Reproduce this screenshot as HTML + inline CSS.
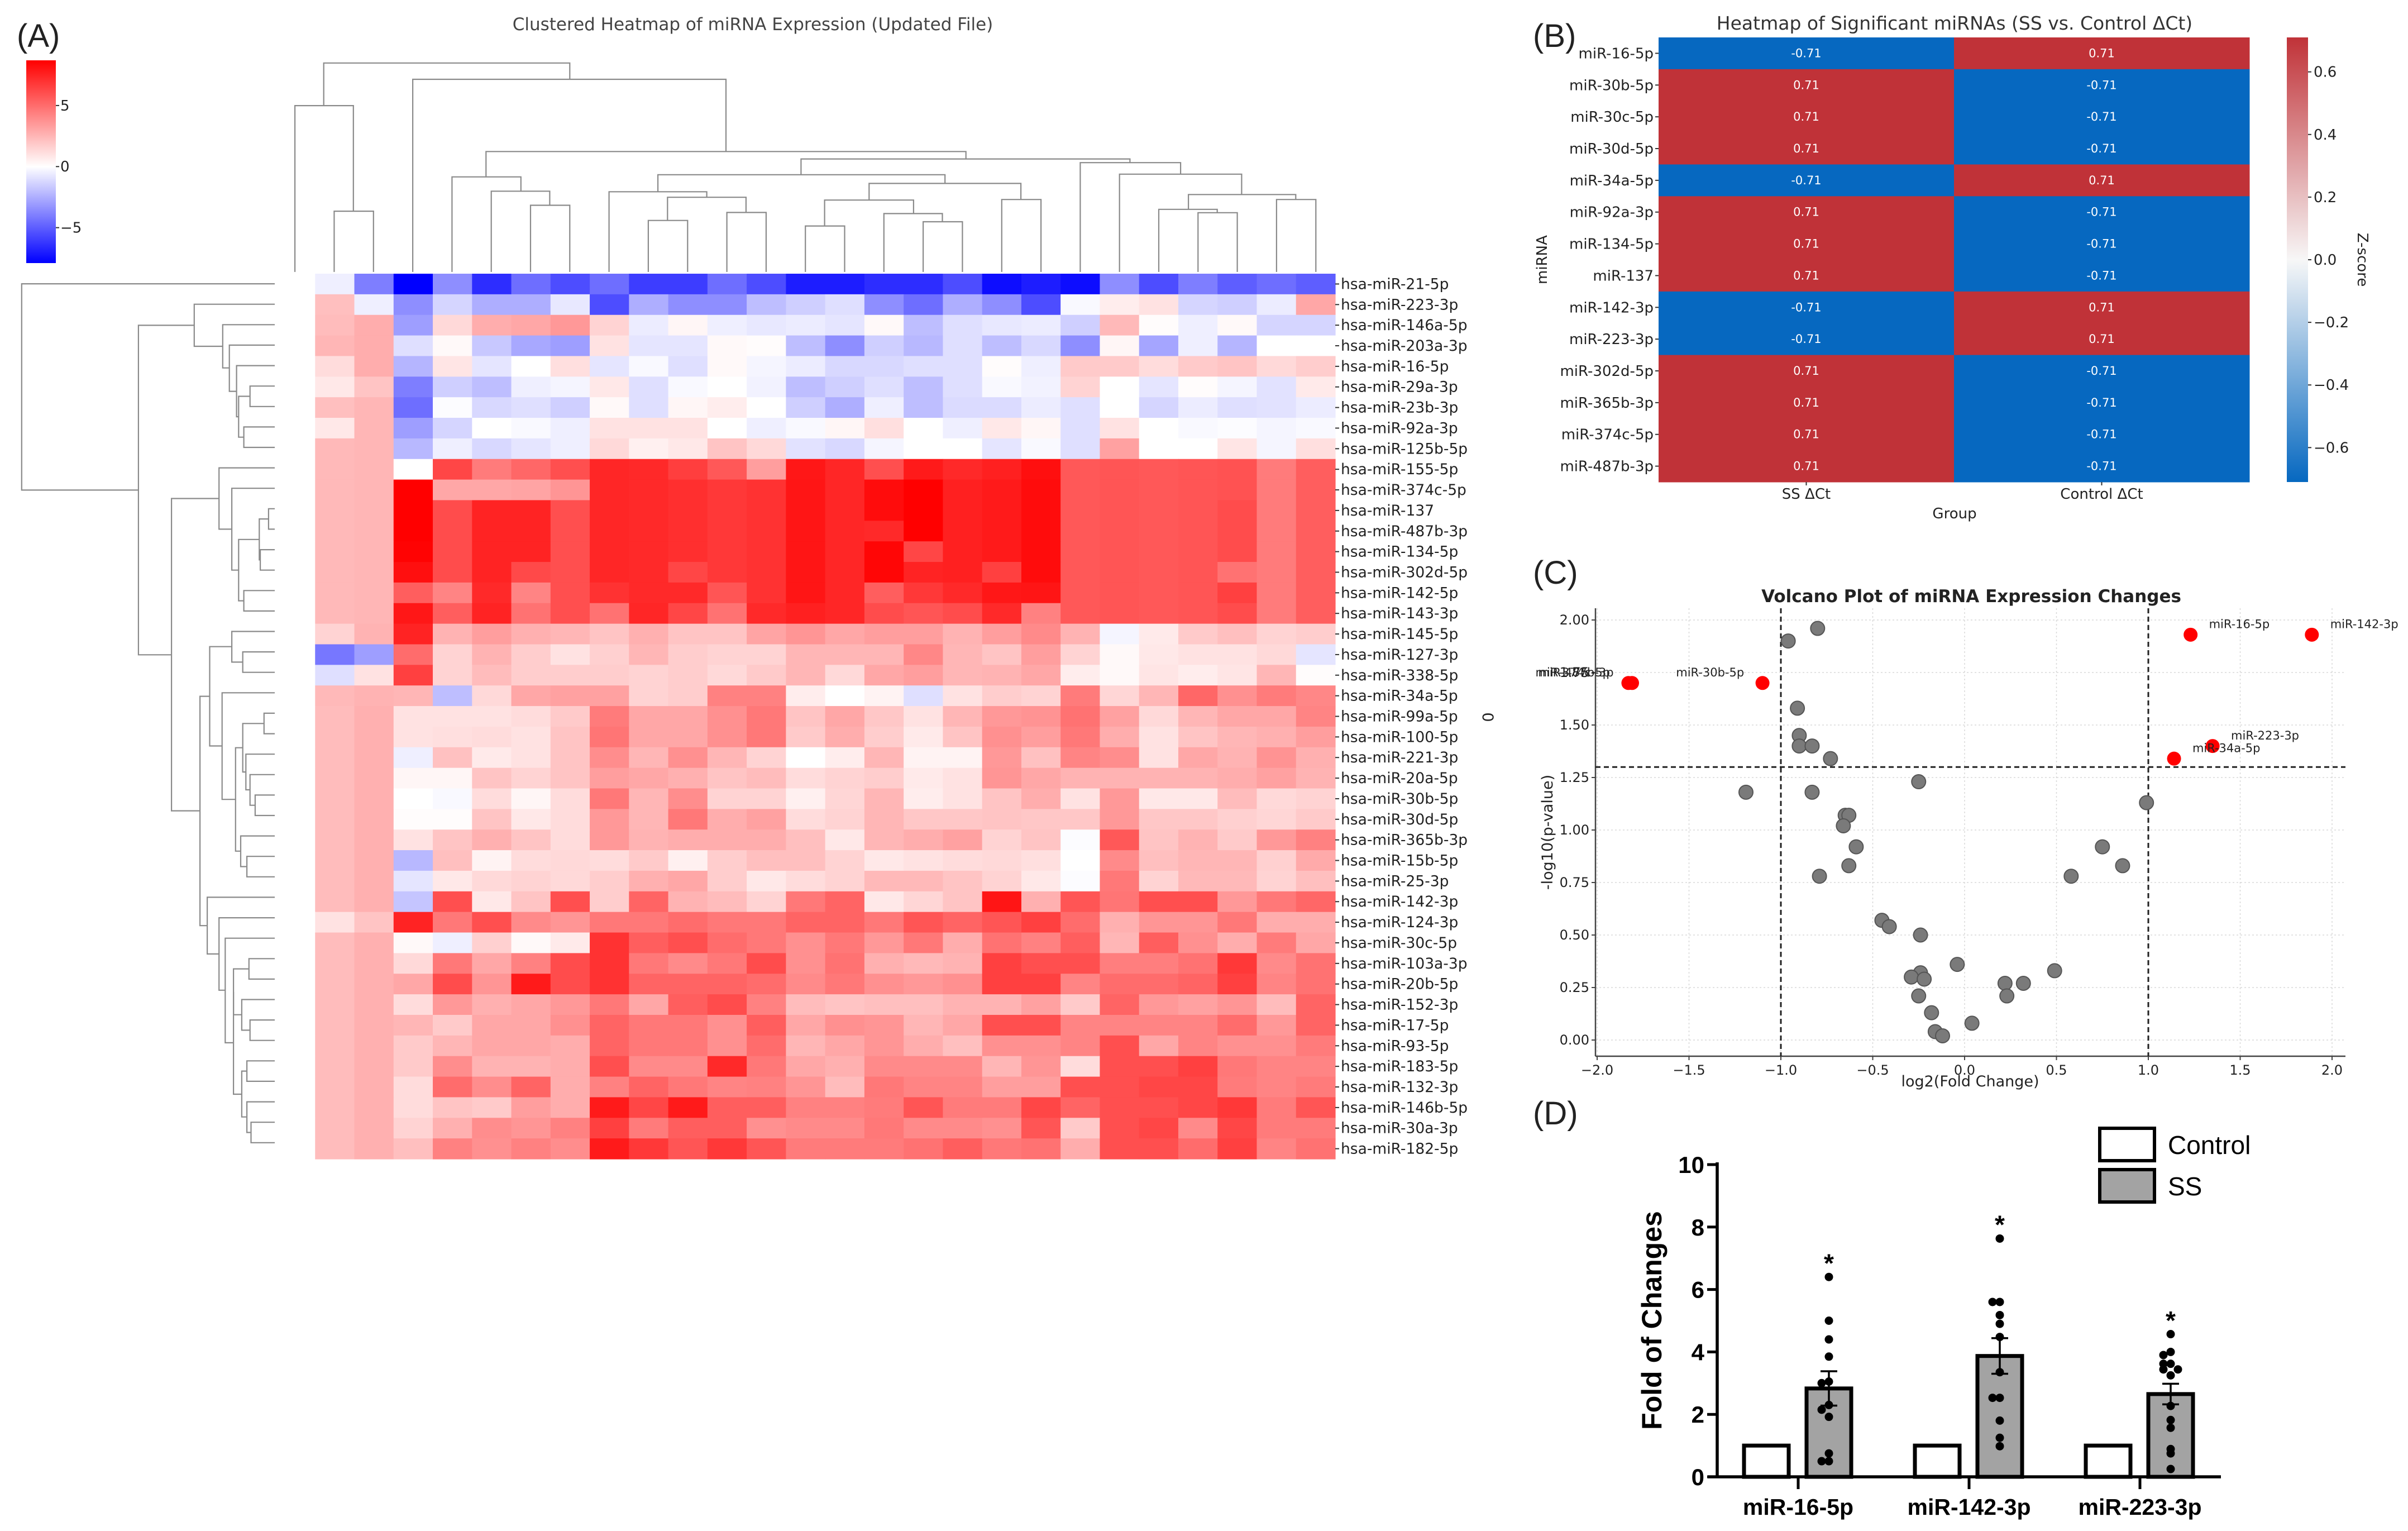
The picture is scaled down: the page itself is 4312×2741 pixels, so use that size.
<!DOCTYPE html>
<html><head><meta charset="utf-8"><title>miRNA figure</title>
<style>
html,body{margin:0;padding:0;background:#fff;}
svg{display:block;}
text{font-family:"DejaVu Sans","Liberation Sans",sans-serif;}
.bold{font-family:"Liberation Sans",sans-serif;font-weight:bold;}
.lab{font-family:"Liberation Sans",sans-serif;}
</style></head>
<body>
<svg id="fig" xmlns="http://www.w3.org/2000/svg" width="4312" height="2741" viewBox="0 0 4312 2741">
<rect x="0" y="0" width="4312" height="2741" fill="#fff"/>
<g id="pA"></g>
<g id="pB"></g>
<g id="pC"></g>
<g id="pD"></g>
</svg>
<script>
// ===== Panel A data =====
const rowLabelsA = ["hsa-miR-21-5p","hsa-miR-223-3p","hsa-miR-146a-5p","hsa-miR-203a-3p","hsa-miR-16-5p","hsa-miR-29a-3p","hsa-miR-23b-3p","hsa-miR-92a-3p","hsa-miR-125b-5p","hsa-miR-155-5p","hsa-miR-374c-5p","hsa-miR-137","hsa-miR-487b-3p","hsa-miR-134-5p","hsa-miR-302d-5p","hsa-miR-142-5p","hsa-miR-143-3p","hsa-miR-145-5p","hsa-miR-127-3p","hsa-miR-338-5p","hsa-miR-34a-5p","hsa-miR-99a-5p","hsa-miR-100-5p","hsa-miR-221-3p","hsa-miR-20a-5p","hsa-miR-30b-5p","hsa-miR-30d-5p","hsa-miR-365b-3p","hsa-miR-15b-5p","hsa-miR-25-3p","hsa-miR-142-3p","hsa-miR-124-3p","hsa-miR-30c-5p","hsa-miR-103a-3p","hsa-miR-20b-5p","hsa-miR-152-3p","hsa-miR-17-5p","hsa-miR-93-5p","hsa-miR-183-5p","hsa-miR-132-3p","hsa-miR-146b-5p","hsa-miR-30a-3p","hsa-miR-182-5p"];
const valuesA = [
[0,-0.5,-4,-8,-3.5,-6.5,-4.5,-5.5,-4.5,-6,-6,-4.5,-5.5,-7,-7,-6.5,-6.5,-5.5,-7.5,-7,-7.5,-3.5,-5.5,-4,-5,-4.5,-5],
[0,2.2,-0.5,-3.5,-1.3,-2.5,-2.5,-0.7,-5.5,-2.5,-3.5,-3.5,-2,-1.5,-1,-3.5,-4.5,-2.5,-3.5,-5.5,-0.2,0.6,1,-1.3,-1.5,-0.6,3],
[0,2.3,2.8,-3,1.3,2.8,3,3.5,1.5,-0.6,0.3,-0.5,-0.7,-0.6,-0.8,0.2,-2,-1,-0.7,-0.6,-1.5,2.4,0.1,-0.5,0.2,-1.3,-1.3],
[0,2.5,2.8,-1,0.2,-1.7,-2.7,-3,1,-0.8,-0.8,0.2,0.1,-2,-3.5,-1.5,-2.2,-1,-2,-1.2,-3.5,0.3,-2.8,-0.5,-2.3,0,0],
[0,1.2,2.8,-2.3,0.9,-0.8,0,1.1,-0.8,-0.2,-1,0.2,-0.3,-0.6,-1.2,-1.2,-1,-1,0.1,-0.5,1.8,1.8,1.2,1.8,2,1.3,1.7],
[0,0.8,2,-4,-1.5,-2,-0.5,-0.3,0.8,-1,-0.2,0,-0.4,-2,-1.5,-1,-2,-1,-0.2,-0.4,1.5,0,-0.8,0.1,-0.3,-0.9,0.7],
[0,2.2,2.5,-4.5,-0.1,-1.2,-1,-1.5,0.2,-1,0.3,0.6,0,-1.5,-2.5,-0.5,-2,-1.1,-1.1,-0.6,-1,0,-1.3,-0.6,-1,-0.9,-0.6],
[0,0.8,2.5,-3,-1.3,0,-0.2,-0.5,1,1,1,0,-0.5,-0.2,0.3,1.1,0,-0.5,0.8,0.3,-1,1,0,-0.2,-0.1,-0.3,-0.2],
[0,2.4,2.5,-2.2,-0.5,-1.2,-0.8,-0.5,1.3,0.5,0.8,2,1.3,-0.9,-1.2,-0.3,0,0,-0.8,-0.2,-1,3.2,0,0,0.9,-0.3,1.1],
[0,2.4,2.5,0,6.3,4.5,5.2,6,7.4,7.3,6.6,5.7,3.3,7.9,7.4,6,7.8,7.3,7.6,8.2,5.7,5.8,5.7,5.8,5.9,4.5,5.5],
[0,2.4,2.5,8.8,3,3,3.1,3.6,7.4,7.3,7.1,6.8,7,8,7.4,8.3,8.8,7.6,7.8,8.3,5.7,5.8,5.7,5.8,5.9,4.5,5.5],
[0,2.4,2.5,8.8,6.1,7.5,7.5,6,7.4,7.3,7.1,6.8,7,8,7.4,8.3,8.8,7.6,7.8,8.3,5.7,5.8,5.7,5.8,6.1,4.5,5.5],
[0,2.4,2.5,8.8,6.1,7.5,7.5,6,7.4,7.3,7.1,6.8,7,8,7.4,7.3,8.8,7.6,7.8,8.3,5.7,5.8,5.7,5.8,6.1,4.5,5.5],
[0,2.4,2.5,8.6,6.1,7.5,7.5,6,7.4,7.3,7.1,6.8,7,8,7.4,8.5,6.3,7.6,7.8,8.3,5.7,5.8,5.7,5.8,6.1,4.5,5.5],
[0,2.4,2.5,8.2,6.1,7.5,6.2,6,7.4,7.3,6.3,6.8,7,8,7.4,8.5,7.5,7.6,6.5,8.3,5.7,5.8,5.7,5.8,4.8,4.5,5.5],
[0,2.4,2.5,5.5,4.2,7.3,4.2,6,7,7.3,7.3,5.8,7,8,7.4,5.5,6.8,7.3,7.9,8.0,5.7,5.8,5.7,5.8,6.5,4.5,5.5],
[0,2.4,2.5,7.9,5.5,7.5,4.8,6,4.8,7.4,6.3,4.8,7.3,7.6,7.4,6.1,5.8,6.1,7.3,4.3,5.7,5.8,5.7,5.8,6.1,4.5,5.5],
[0,1.5,2.6,7.5,2.6,3.3,2.7,2.5,2,2.7,2,2,3.1,3.6,3,3.3,3.3,2.6,3.3,4,2.6,-0.3,0.7,1.8,2.2,1.5,1.7],
[0,-4.2,-3,5,1.5,2.6,1.7,1,1.6,2.5,1.7,1.5,1.5,2.5,2.5,2.5,4.1,2.5,2,3.3,1.5,0.2,0.8,1,1,1.3,-0.8],
[0,-1,1,6.5,1.5,2.3,1.7,1.7,1.7,1.5,1.7,1.3,1.8,2.5,1.3,3,3.3,2.5,2.6,3,0.6,0.2,0.9,0.6,0.9,2.5,0.1],
[0,2.4,2.6,2.5,-2,1.3,3,3.2,3.2,1.5,1.7,4.3,4.3,0.6,0,0.4,-1,1,1.7,1.5,4.5,1.4,2.5,5.2,3.8,4.5,4.1],
[0,2.3,2.7,1,1,1,1.2,1.8,4.5,3,3,3.8,4.6,2,3,1.9,1,2.5,3.5,3.7,4.8,3.2,1.3,2.5,3,3,4.2],
[0,2.3,2.7,1,1.1,1.2,1,2,4.7,3,3,3.8,4.6,1.8,2.8,1.7,0.7,2,3.8,3.3,4.6,2.8,1,2,2.5,2.7,3.3],
[0,2.3,2.7,-0.5,2.1,0.7,1,2,3.9,2.5,3.8,2.5,1.5,0,0.6,2.5,0.4,0.4,3.5,2.1,4.2,3.9,1,3,2.6,3.7,2.7],
[0,2.3,2.7,0.3,0.3,2,1.5,2,3.3,3,2.7,2,2.3,1.2,1.5,1.7,0.7,1,3.6,3,2.6,2.6,2.6,2.6,2.8,3.2,2.6],
[0,2.3,2.7,0,-0.2,1.2,0.3,1.2,4.6,2.5,3.9,1.5,1.5,0.5,1.4,2.5,0.6,1,2,2.8,1,3.5,0.8,0.8,2.3,1.3,1.5],
[0,2.3,2.7,0.1,0.1,2,0.8,1.2,3.5,2.5,4.6,2.8,3.2,1.2,1.5,2.5,1.9,1.9,2,1.9,1.9,3.5,1.9,1.9,1.6,1.4,1.8],
[0,2.3,2.7,1,2,2.7,2,1.2,3.5,2.6,2.8,2.8,2.8,2.2,0.8,2.5,2.8,3.2,1.5,2,-0.1,5.7,2,2.6,1.8,3.5,4.3],
[0,2.3,2.7,-2.2,2.2,0.4,1.2,1.3,1.2,1.8,0.5,1.7,2.2,2.2,1.5,0.8,1,1.2,1.3,1.1,0,4,2.2,2.5,2.5,1.6,2.9],
[0,2.3,2.7,-0.8,0.8,1.3,1.5,1.3,1.7,2.7,3,1.7,0.8,1.2,1.5,2.4,2.4,2,1.5,0.8,-0.1,4.6,1.5,2.4,2.4,1.5,2.2],
[0,2.3,2.7,-1.8,6,0.8,2,6,1.7,5.3,2.6,2.3,1.5,4.6,5.3,0.8,1.4,2,8,2.7,5.8,4.7,6,6,3.5,4.6,5.2],
[0,1,2,7.5,4.6,6,4,3.6,4.6,4.6,5,4.6,4.6,5.3,5.3,4.6,5.8,5.3,5.8,6.5,5,2.7,3.6,3.6,4.6,2.8,2.8],
[0,2.3,2.7,0.2,-0.5,1.6,0.2,0.7,7,5.5,6,5,4.6,3.8,4.6,3.5,4.6,2.8,4.8,4.3,5.5,2.5,5.5,3.8,2.8,4.5,3.0],
[0,2.3,2.7,1.3,4.6,3,4.3,6.1,7,4.6,4,4.6,6.1,3.8,4.8,2.7,2.4,2.6,6.5,6,6,4.4,4.4,4.8,6.8,4,4.8],
[0,2.3,2.7,3,6.1,3.6,7.8,6.1,7,5.3,5.3,5.3,5,4,4.6,3.8,3.5,3.8,6.5,6.5,4.2,5,5,5.3,6.5,4.2,4.8],
[0,2.3,2.7,1.2,3.5,2.7,3,3.5,4.6,3,5.5,6.1,4.3,2.3,2,2.2,2.2,2.6,2.6,3.2,1.8,5.3,3.5,3.2,3.6,2.3,5.3],
[0,2.3,2.7,2.5,1.8,3,3,3.8,5.3,4.6,4.6,3.8,5.5,3,3.8,3.6,2.5,3,6,6,4.2,4.2,4.2,4.2,5,3.5,5.3],
[0,2.3,2.7,1.8,2.5,3,3,2.8,5.3,4.6,4.6,3.8,5,2.5,3,3.6,2.8,2.2,3.8,3.8,4.2,6,3,4.2,3.8,3.8,4.5],
[0,2.3,2.7,1.8,3.9,2.6,2.6,2.8,6,4,4,7.3,4.6,3,2.7,4,4,4,2.5,3.6,1.2,6,6,6.5,4.6,4.2,4.2],
[0,2.3,2.7,1.2,5,3.9,5.3,2.8,4.3,5.3,4.6,4.2,4.3,3.6,2.3,4.6,4.2,4.2,3.3,3.3,6,6,6.3,6.3,4.5,4.2,4.5],
[0,2.3,2.7,1.2,2,1.8,3.3,2.8,7.8,6.3,7.8,5.5,5.5,4.3,4.3,4.5,5.8,4.5,4.5,6.3,5.3,6,6,6.3,6.8,4.5,5.8],
[0,2.3,2.7,1.5,2.7,3.9,3.6,4.3,6.5,4.5,5.5,5.5,3.8,4,4,4.6,4,4,3.8,5.8,1.8,6,6.3,4,6.3,4.5,4.5],
[0,2.3,2.7,2.2,4.3,3.8,4.3,3.9,7.8,6.8,5.8,6.8,5.8,4.5,4.5,4.5,4.8,5.5,4.6,4.8,2.8,6,6,5,6.5,4.2,4.8]
];
const colorbarTicksA = [5, 0, -5];
const colorbarLimitsA = [-7.9, 8.7];

// ===== Panel B data =====
const mirnasB = ["miR-16-5p","miR-30b-5p","miR-30c-5p","miR-30d-5p","miR-34a-5p","miR-92a-3p","miR-134-5p","miR-137","miR-142-3p","miR-223-3p","miR-302d-5p","miR-365b-3p","miR-374c-5p","miR-487b-3p"];
const groupsB = ["SS \u0394Ct","Control \u0394Ct"];
const ssZ = [-0.71,0.71,0.71,0.71,-0.71,0.71,0.71,0.71,-0.71,-0.71,0.71,0.71,0.71,0.71];
const ctrlZ = [0.71,-0.71,-0.71,-0.71,0.71,-0.71,-0.71,-0.71,0.71,0.71,-0.71,-0.71,-0.71,-0.71];
const cbTicksB = [0.6,0.4,0.2,0.0,-0.2,-0.4,-0.6];

// ===== Panel C data =====
const grayFC = [-0.80,-0.96,-0.91,-0.90,-0.90,-0.83,-0.73,-1.19,-0.83,-0.25,-0.65,-0.63,-0.66,-0.59,-0.63,-0.79,0.99,0.75,0.86,0.58,-0.45,-0.41,-0.24,-0.04,-0.24,-0.29,-0.22,0.49,0.22,0.32,-0.25,0.23,-0.18,0.04,-0.16,-0.12];
const grayP = [1.96,1.90,1.58,1.45,1.40,1.40,1.34,1.18,1.18,1.23,1.07,1.07,1.02,0.92,0.83,0.78,1.13,0.92,0.83,0.78,0.57,0.54,0.50,0.36,0.32,0.30,0.29,0.33,0.27,0.27,0.21,0.21,0.13,0.08,0.04,0.02];
const sigNames = ["miR-374c-5p","miR-487b-3p","miR-30b-5p","miR-16-5p","miR-142-3p","miR-223-3p","miR-34a-5p"];
const sigFC = [-1.83,-1.81,-1.10,1.23,1.89,1.35,1.14];
const sigP = [1.70,1.70,1.70,1.93,1.93,1.40,1.34];
const xTicksC = [-2.0,-1.5,-1.0,-0.5,0.0,0.5,1.0,1.5,2.0];
const yTicksC = [0.00,0.25,0.50,0.75,1.00,1.25,1.50,1.75,2.00];
const fcThreshold = [-1, 1];
const pThreshold = 1.30;

// ===== Panel D data =====
const genesD = ["miR-16-5p","miR-142-3p","miR-223-3p"];
const controlMean = [1,1,1];
const ssMean = [2.83,3.87,2.65];
const ssSem = [0.55,0.57,0.33];
const ssDots1 = [6.4,5.0,4.4,3.85,3.05,3.0,2.3,2.15,1.92,0.75,0.5,0.5];
const ssDots2 = [7.63,5.6,5.6,5.18,4.9,4.48,3.35,2.53,2.53,1.8,1.25,0.98];
const ssDots3 = [4.57,4.0,3.9,3.62,3.62,3.44,3.44,3.25,2.27,1.82,1.57,0.89,0.75,0.25];
const yTicksD = [0,2,4,6,8,10];

const NS = "http://www.w3.org/2000/svg";
function mk(parent, tag, attrs, txt){
  const e = document.createElementNS(NS, tag);
  for (const k in attrs) e.setAttribute(k, attrs[k]);
  if (txt !== undefined) e.textContent = txt;
  parent.appendChild(e);
  return e;
}
function bwr(v, vmin, vmax){
  let r,g,b;
  if (v >= 0){ const t = Math.min(1, v/vmax); r = 255; g = b = Math.round(255*(1-t)); }
  else { const t = Math.min(1, v/vmin); r = g = Math.round(255*(1-t)); b = 255; }
  return `rgb(${r},${g},${b})`;
}

// ===== Panel A =====
(function(){
  const G = document.getElementById('pA');
  const x0 = 494, cw = (2391-494)/27, y0 = 490, rh = (2075-490)/43;
  const [vmin, vmax] = colorbarLimitsA;
  const lbl = mk(G,'text',{x:30,y:84,'font-size':58,fill:'#222',class:'lab'},'(A)');
   
  const title = mk(G,'text',{x:1348,y:54,'font-size':31,fill:'#444','text-anchor':'middle'},'Clustered Heatmap of miRNA Expression (Updated File)');
   
  const cells = mk(G,'g',{});
   
  valuesA.forEach((row, i) => {
    row.forEach((v, j) => {
      const r = mk(cells,'rect',{x:(x0+j*cw).toFixed(2),y:(y0+i*rh).toFixed(2),width:(cw+0.6).toFixed(2),height:(rh+0.6).toFixed(2),fill:bwr(v,vmin,vmax)});
      
      
    });
  });
  rowLabelsA.forEach((name, i) => {
    const cy = y0 + (i+0.5)*rh;
    mk(G,'line',{x1:2391,x2:2398,y1:cy,y2:cy,stroke:'#333','stroke-width':2});
    const t = mk(G,'text',{x:2401,y:cy+9,'font-size':26.5,fill:'#222'},name);
    
    
  });
  const yl = mk(G,'text',{x:2655,y:1284,'font-size':27,fill:'#222','text-anchor':'middle',transform:'rotate(90 2655 1284)'},'0');
   
  const defs = mk(G,'defs',{});
  const lg = mk(defs,'linearGradient',{id:'cbA',x1:0,y1:1,x2:0,y2:0});
  for (let k=0;k<=40;k++){ const v = vmin + (vmax-vmin)*k/40; mk(lg,'stop',{offset:(k/40),'stop-color':bwr(v,vmin,vmax)}); }
  const cbTop = 108, cbBot = 471;
  const cb = mk(G,'rect',{x:47,y:cbTop,width:53,height:cbBot-cbTop,fill:'url(#cbA)'});
   
  colorbarTicksA.forEach(tv => {
    const yy = cbBot - (tv - vmin)/(vmax-vmin)*(cbBot-cbTop);
    mk(G,'line',{x1:100,x2:106,y1:yy,y2:yy,stroke:'#333','stroke-width':2});
    const t = mk(G,'text',{x:108,y:yy+9,'font-size':26,fill:'#222'},tv<0?'\u22125':String(tv));
     
  });
  const colLinks = [[383,1468,428,1468,1140],[338,1468,405,1140,570],[608,1468,653,1468,1108],[563,1468,630,1108,1032],[518,1468,597,1032,955],[743,1468,788,1468,1190],[833,1468,878,1468,1147],[765,1190,855,1147,1065],[698,1468,810,1065,1035],[923,1468,968,1468,1220],[1058,1468,1103,1468,1197],[1013,1468,1080,1197,1153],[945,1220,1047,1153,1080],[1148,1468,1193,1468,1077],[996,1080,1170,1077,990],[754,1035,1083,990,943],[1373,1468,1418,1468,1148],[1328,1468,1395,1148,1130],[1463,1468,1508,1468,1077],[1362,1130,1485,1077,1050],[1283,1468,1423,1050,940],[1238,1468,1353,940,878],[918,943,1295,878,858],[557,955,1107,858,818],[473,1468,832,818,428],[371,570,653,428,340]];
  const cd = mk(G,'g',{fill:'none',stroke:'#8a8a8a','stroke-width':2.2});
   
  const cx = v => (v*1.5625).toFixed(1), cyy = v => Math.min(v/3.015, 487).toFixed(1);
  colLinks.forEach(l => { mk(cd,'path',{d:`M${cx(l[0])} ${cyy(l[1])} V${cyy(l[4])} H${cx(l[2])} V${cyy(l[3])}`}); });
  const rowLinks = [[291,1330,326,1330,1180],[221,1330,256,1330,1210],[238.5,1210,308.5,1180,1155],[186,1330,273.5,1155,1145],[151,1330,230,1145,1110],[116,1330,190,1110,1078],[81,1330,153,1078,940],[431,1330,466,1330,1300],[501,1330,536,1330,1260],[448.5,1300,518.5,1260,1255],[571,1330,606,1330,1180],[483.5,1255,588.5,1180,1155],[396,1330,536,1155,1122],[361,1330,466,1122,1060],[676,1330,711,1330,1175],[641,1330,693.5,1175,1122],[781,1330,816,1330,1278],[921,1330,956,1330,1235],[886,1330,938.5,1235,1210],[851,1330,912,1210,1190],[798.5,1278,881.5,1190,1175],[1026,1330,1061,1330,1195],[991,1330,1043.5,1195,1165],[840,1175,1017,1165,1140],[746,1330,928.5,1140,1075],[667,1122,837,1075,1015],[1201,1330,1236,1330,1205],[1306,1330,1341,1330,1210],[1271,1330,1323.5,1210,1170],[1218.5,1205,1297,1170,1130],[1376,1330,1411,1330,1195],[1481,1330,1516,1330,1215],[1446,1330,1498.5,1215,1195],[1393.5,1195,1472,1195,1170],[1258,1130,1433,1170,1130],[1166,1330,1345,1130,1090],[1131,1330,1255,1090,1060],[1096,1330,1193,1060,1003],[752,1015,1144.5,1003,968],[413.5,1060,948,968,830],[117,940,681,830,670],[46,1330,399,670,105]];
  const rd = mk(G,'g',{fill:'none',stroke:'#8a8a8a','stroke-width':2.2});
   
  const rx = v => (v/2.703).toFixed(1), ry = v => (v/0.956+460).toFixed(1);
  rowLinks.forEach(l => { mk(rd,'path',{d:`M${rx(l[1])} ${ry(l[0])} H${rx(l[4])} V${ry(l[2])} H${rx(l[3])}`}); });
})();

// ===== Panel B =====
(function(){
  const G = document.getElementById('pB');
  const xL = 2970, xR = 4028, yT = 67, yB = 863;
  const cw = (xR-xL)/groupsB.length, rh = (yB-yT)/mirnasB.length;
  const red = [192,50,56], blue = [6,104,192], wht=[247,247,247];
  function zc(v){
    let t = Math.max(-1, Math.min(1, v/0.71));
    const a = t>=0 ? red : blue; t = Math.abs(t);
    return `rgb(${Math.round(wht[0]+(a[0]-wht[0])*t)},${Math.round(wht[1]+(a[1]-wht[1])*t)},${Math.round(wht[2]+(a[2]-wht[2])*t)})`;
  }
  const lbl = mk(G,'text',{x:2745,y:84,'font-size':58,fill:'#222',class:'lab'},'(B)');
   
  const title = mk(G,'text',{x:3500,y:53,'font-size':33,fill:'#333','text-anchor':'middle'},'Heatmap of Significant miRNAs (SS vs. Control \u0394Ct)');
   
  const cols = [ssZ, ctrlZ];
  cols.forEach((arr, j) => {
    arr.forEach((v, i) => {
      const r = mk(G,'rect',{x:xL+j*cw,y:(yT+i*rh).toFixed(2),width:cw+0.5,height:(rh+0.5).toFixed(2),fill:zc(v)});
      
      
      const t = mk(G,'text',{x:xL+(j+0.5)*cw,y:(yT+(i+0.5)*rh+7).toFixed(1),'font-size':21,fill:'#fff','text-anchor':'middle'},(v<0?'-':'')+Math.abs(v).toFixed(2));
      
      
    });
  });
  mirnasB.forEach((m, i) => {
    const cy = yT+(i+0.5)*rh;
    mk(G,'line',{x1:xL-6,x2:xL,y1:cy,y2:cy,stroke:'#333','stroke-width':2});
    const t = mk(G,'text',{x:xL-9,y:cy+9,'font-size':26,fill:'#222','text-anchor':'end'},m);
    
    
  });
  groupsB.forEach((g, j) => {
    const cx = xL+(j+0.5)*cw;
    mk(G,'line',{x1:cx,x2:cx,y1:yB,y2:yB+6,stroke:'#333','stroke-width':2});
    const t = mk(G,'text',{x:cx,y:893,'font-size':26,fill:'#222','text-anchor':'middle'},g);
    
    
  });
  const xt = mk(G,'text',{x:3500,y:928,'font-size':26,fill:'#222','text-anchor':'middle'},'Group');
   
  const yt = mk(G,'text',{x:2770,y:465,'font-size':26,fill:'#222','text-anchor':'middle',transform:'rotate(-90 2770 465)'},'miRNA');
   
  const defs = mk(G,'defs',{});
  const lg = mk(defs,'linearGradient',{id:'cbB',x1:0,y1:1,x2:0,y2:0});
  for (let k=0;k<=20;k++){ const v=-0.71+1.42*k/20; mk(lg,'stop',{offset:k/20,'stop-color':zc(v)}); }
  const cb = mk(G,'rect',{x:4095,y:yT,width:38,height:yB-yT,fill:'url(#cbB)'});
   
  cbTicksB.forEach(tv => {
    const yy = yT + (0.71 - tv)/1.42*(yB-yT);
    mk(G,'line',{x1:4133,x2:4139,y1:yy,y2:yy,stroke:'#333','stroke-width':2});
    const s = tv<0 ? '\u2212'+Math.abs(tv).toFixed(1) : tv.toFixed(1);
    const t = mk(G,'text',{x:4143,y:yy+9,'font-size':26,fill:'#222'},s);
    
    
  });
  const zl = mk(G,'text',{x:4222,y:465,'font-size':26,fill:'#222','text-anchor':'middle',transform:'rotate(90 4222 465)'},'Z-score');
   
})();

// ===== Panel C =====
(function(){
  const G = document.getElementById('pC');
  const X = v => 2860 + (v+2)*329;
  const Y = v => 1862 - v*376;
  const left = 2857, right = 4200, top = 1089, bottom = 1891;
  const lbl = mk(G,'text',{x:2745,y:1045,'font-size':58,fill:'#222',class:'lab'},'(C)');
   
  const title = mk(G,'text',{x:3530,y:1078,'font-size':31,'font-weight':'bold',fill:'#222','text-anchor':'middle'},'Volcano Plot of miRNA Expression Changes');
   
  const grid = mk(G,'g',{stroke:'#d8d8d8','stroke-width':1.5,'stroke-dasharray':'3 4'});
   
  xTicksC.forEach(v => mk(grid,'line',{x1:X(v),x2:X(v),y1:top,y2:bottom}));
  yTicksC.forEach(v => mk(grid,'line',{x1:left,x2:right,y1:Y(v),y2:Y(v)}));
  mk(G,'line',{x1:left,x2:left,y1:top,y2:bottom,stroke:'#444','stroke-width':2.5});
  mk(G,'line',{x1:left,x2:right,y1:bottom,y2:bottom,stroke:'#444','stroke-width':2.5});
  xTicksC.forEach(v => {
    mk(G,'line',{x1:X(v),x2:X(v),y1:bottom,y2:bottom+7,stroke:'#444','stroke-width':2});
    const t = mk(G,'text',{x:X(v),y:bottom+33,'font-size':24,fill:'#222','text-anchor':'middle'},(v<0?'\u2212':'')+Math.abs(v).toFixed(1));
     
  });
  yTicksC.forEach(v => {
    mk(G,'line',{x1:left-7,x2:left,y1:Y(v),y2:Y(v),stroke:'#444','stroke-width':2});
    const t = mk(G,'text',{x:left-11,y:Y(v)+8,'font-size':24,fill:'#222','text-anchor':'end'},v.toFixed(2));
     
  });
  const xt = mk(G,'text',{x:3528,y:1945,'font-size':27,fill:'#222','text-anchor':'middle'},'log2(Fold Change)');
   
  const yt = mk(G,'text',{x:2780,y:1490,'font-size':27,fill:'#222','text-anchor':'middle',transform:'rotate(-90 2780 1490)'},'-log10(p-value)');
   
  fcThreshold.forEach(v => {
    const l = mk(G,'line',{x1:X(v),x2:X(v),y1:top,y2:bottom,stroke:'#222','stroke-width':3,'stroke-dasharray':'9 6'});
     
  });
  const hl = mk(G,'line',{x1:left,x2:right,y1:Y(pThreshold),y2:Y(pThreshold),stroke:'#222','stroke-width':3,'stroke-dasharray':'9 6'});
   
  grayFC.forEach((fc, i) => {
    const c = mk(G,'circle',{cx:X(fc),cy:Y(grayP[i]),r:12.5,fill:'#7a7a7a',stroke:'#555','stroke-width':2});
    
    
  });
  sigFC.forEach((fc, i) => {
    const c = mk(G,'circle',{cx:X(fc),cy:Y(sigP[i]),r:12.5,fill:'#ff0000'});
    
    
    const right = fc > 0;
    const t = mk(G,'text',{x:X(right ? fc+0.1 : fc-0.1),y:Y(sigP[i]+0.05)+7,'font-size':21,fill:'#222','text-anchor':right?'start':'end'},sigNames[i]);
    
    
  });
})();

// ===== Panel D =====
(function(){
  const G = document.getElementById('pD');
  const Y = v => 2644 - v*55.9;
  const groupX = i => 3220 + i*306;
  const lbl = mk(G,'text',{x:2745,y:2013,'font-size':58,fill:'#222',class:'lab'},'(D)');
   
  const bw = 80;
  const dotSets = [ssDots1, ssDots2, ssDots3];
  genesD.forEach((g, i) => {
    const gx = groupX(i);
    const cxC = gx - 57, cxS = gx + 55;
    const bc = mk(G,'rect',{x:cxC-bw/2,y:Y(controlMean[i]),width:bw,height:Y(0)-Y(controlMean[i]),fill:'#fff',stroke:'#000','stroke-width':7});
     
    const bs = mk(G,'rect',{x:cxS-bw/2,y:Y(ssMean[i]),width:bw,height:Y(0)-Y(ssMean[i]),fill:'#a3a3a3',stroke:'#000','stroke-width':7});
     
    const eb = mk(G,'path',{d:`M${cxS} ${Y(ssMean[i]-ssSem[i])} V${Y(ssMean[i]+ssSem[i])} M${cxS-15} ${Y(ssMean[i]+ssSem[i])} H${cxS+15} M${cxS-15} ${Y(ssMean[i]-ssSem[i])} H${cxS+15}`,stroke:'#000','stroke-width':3.5,fill:'none'});
     
    const seen = {};
    dotSets[i].forEach(v => {
      const k = Math.round(v*4); seen[k] = (seen[k]||0)+1;
      const n = seen[k]; const off = n===1 ? 0 : (n%2===0 ? -13 : 13);
      const d = mk(G,'circle',{cx:cxS+off,cy:Y(v),r:7.5,fill:'#000'});
      
      
    });
    const topDot = Math.max(...dotSets[i]);
    const st = mk(G,'text',{x:cxS,y:Y(topDot+0.55)+22,'font-size':46,fill:'#000','text-anchor':'middle',class:'bold'},'*');
     
    mk(G,'line',{x1:gx,x2:gx,y1:2644,y2:2666,stroke:'#000','stroke-width':5});
    const t = mk(G,'text',{x:gx,y:2712,'font-size':41,fill:'#000','text-anchor':'middle',class:'bold'},g);
     
  });
  const ax = mk(G,'path',{d:'M3075 2081 V2644 M3058 2644 H3977',stroke:'#000','stroke-width':5.5,fill:'none'});
   
  yTicksD.forEach(v => {
    mk(G,'line',{x1:3057,x2:3075,y1:Y(v),y2:Y(v),stroke:'#000','stroke-width':5});
    const t = mk(G,'text',{x:3052,y:Y(v)+15,'font-size':42,fill:'#000','text-anchor':'end',class:'bold'},String(v));
     
  });
  const yt = mk(G,'text',{x:2975,y:2364,'font-size':50,fill:'#000','text-anchor':'middle',class:'bold',transform:'rotate(-90 2975 2364)'},'Fold of Changes');
   
  const l1 = mk(G,'rect',{x:3760,y:2020,width:98,height:58,fill:'#fff',stroke:'#000','stroke-width':6});
   
  const lt1 = mk(G,'text',{x:3882,y:2066,'font-size':46,fill:'#000',class:'lab'},'Control');
   
  const l2 = mk(G,'rect',{x:3760,y:2094,width:98,height:58,fill:'#a3a3a3',stroke:'#000','stroke-width':6});
   
  const lt2 = mk(G,'text',{x:3882,y:2140,'font-size':46,fill:'#000',class:'lab'},'SS');
   
})();
</script>
</body></html>
